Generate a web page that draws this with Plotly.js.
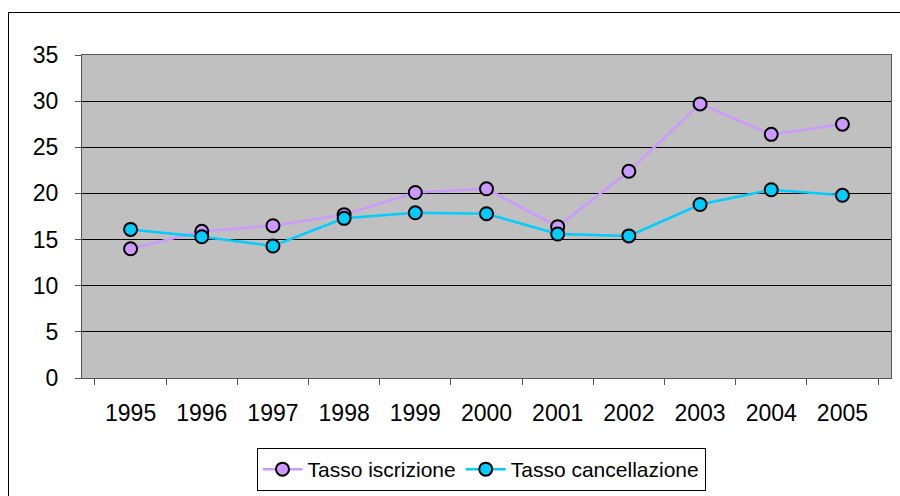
<!DOCTYPE html>
<html>
<head>
<meta charset="utf-8">
<script src="https://cdn.plot.ly/plotly-3.0.1.min.js"></script>
<style>
  body { margin: 0; background: #fff; }
  #frame { position: absolute; left: 8px; top: 12px; width: 1000px; height: 600px; border: 1px solid #000; }
  #plot { position: absolute; left: 0; top: 0; width: 900px; height: 496px; }
</style>
</head>
<body>
<div id="frame"></div>
<div id="plot"></div>
<script>
const anni = ["1995", "1996", "1997", "1998", "1999", "2000", "2001", "2002", "2003", "2004", "2005"];
const iscrizione = [14.0, 15.9, 16.5, 17.7, 20.1, 20.5, 16.4, 22.4, 29.7, 26.4, 27.5];
const cancellazione = [16.1, 15.3, 14.3, 17.3, 17.9, 17.8, 15.6, 15.4, 18.8, 20.4, 19.8];

const trace1 = {
  x: anni,
  y: iscrizione,
  type: "scatter",
  mode: "lines+markers",
  name: "Tasso iscrizione",
  line: { color: "#CC99FF", width: 2.5 },
  marker: { color: "#CC99FF", size: 13, line: { color: "#000", width: 2 } }
};

const trace2 = {
  x: anni,
  y: cancellazione,
  type: "scatter",
  mode: "lines+markers",
  name: "Tasso cancellazione",
  line: { color: "#00CCFF", width: 2.5 },
  marker: { color: "#00CCFF", size: 13, line: { color: "#000", width: 2 } }
};

const layout = {
  width: 900,
  height: 496,
  margin: { l: 82, r: 9, t: 55, b: 117.5 },
  paper_bgcolor: "rgba(0,0,0,0)",
  plot_bgcolor: "#C0C0C0",
  font: { family: "Liberation Sans, Arial, sans-serif", color: "#000" },
  showlegend: true,
  xaxis: {
    type: "category",
    tickson: "boundaries",
    ticks: "outside",
    ticklen: 6,
    tickcolor: "#555",
    showgrid: false,
    showline: true,
    linecolor: "#555",
    mirror: true,
    ticklabelstandoff: 14,
    tickfont: { size: 23 }
  },
  yaxis: {
    range: [0, 35],
    dtick: 5,
    ticks: "outside",
    ticklen: 6,
    tickcolor: "#555",
    showgrid: true,
    gridcolor: "#000",
    gridwidth: 1,
    zeroline: false,
    showline: true,
    linecolor: "#555",
    mirror: true,
    ticklabelstandoff: 12,
    tickfont: { size: 23 }
  },
  legend: {
    orientation: "h",
    xref: "container",
    yref: "container",
    x: 481 / 900,
    xanchor: "center",
    y: 5 / 496,
    yanchor: "bottom",
    bgcolor: "#fff",
    bordercolor: "#000",
    borderwidth: 1,
    itemwidth: 40,
    font: { size: 21 }
  }
};

Plotly.newPlot("plot", [trace1, trace2], layout, { displayModeBar: false });
</script>
</body>
</html>
